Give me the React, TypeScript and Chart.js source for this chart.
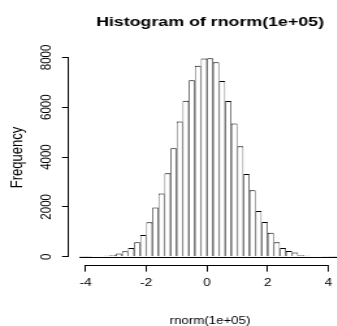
import React, { useEffect, useRef } from "react";
import { Chart, registerables } from "chart.js";

Chart.register(...registerables);

// ---- data ----
const binStart = -4.2;
const binWidth = 0.2;
const counts = [
  1, 3, 8, 20, 38, 70, 125, 220, 350, 580, 875, 1380, 1975, 2535, 3350, 4355,
  5425, 6255, 7085, 7660, 7955, 7960, 7800, 7050, 6245, 5350, 4430, 3320, 2670,
  1835, 1390, 960, 585, 350, 225, 170, 60, 38, 18, 9, 4, 2, 1,
];
const xTickValues = [-4, -2, 0, 2, 4];
const yTickValues = [0, 2000, 4000, 6000, 8000];
const titleText = "Histogram of rnorm(1e+05)";
const xLabel = "rnorm(1e+05)";
const yLabel = "Frequency";

const FONT = '"Liberation Sans", Arial, Helvetica, sans-serif';
const STRETCH = 1.3;
const INNER_W = 270;
const H = 326;

export default function App() {
  const ref = useRef<HTMLCanvasElement | null>(null);

  useEffect(() => {
    const canvas = ref.current;
    if (!canvas) return;
    const lo = binStart;
    const hi = binStart + counts.length * binWidth;
    const xExt = 0.04 * (hi - lo);
    const ymax = Math.max(...counts);
    const yExt = 0.04 * ymax;

    const data = counts.map((c, i) => ({ x: binStart + binWidth * (i + 0.5), y: c }));

    const axisLines = {
      id: "rAxisLines",
      afterDatasetsDraw(chart: any) {
        const { ctx, chartArea, scales } = chart;
        const xs = scales.x;
        const ys = scales.y;
        ctx.save();
        ctx.beginPath();
        ctx.rect(chartArea.left, chartArea.top, chartArea.right - chartArea.left, chartArea.bottom - chartArea.top);
        ctx.clip();
        ctx.strokeStyle = "#000";
        ctx.lineWidth = 1;
        const y0 = Math.round(ys.getPixelForValue(0)) + 0.5;
        ctx.beginPath();
        ctx.moveTo(xs.getPixelForValue(lo), y0);
        ctx.lineTo(xs.getPixelForValue(hi), y0);
        ctx.stroke();
        ctx.restore();
      },
      afterDraw(chart: any) {
        const { ctx, chartArea, scales } = chart;
        const xs = scales.x;
        const ys = scales.y;
        ctx.save();
        ctx.strokeStyle = "#000";
        ctx.lineWidth = 1;
        const xt = xs.ticks;
        const yb = Math.round(chartArea.bottom) + 0.5;
        ctx.beginPath();
        ctx.moveTo(xs.getPixelForValue(xt[0].value), yb);
        ctx.lineTo(xs.getPixelForValue(xt[xt.length - 1].value), yb);
        ctx.stroke();
        const yt = ys.ticks;
        const xl = Math.round(chartArea.left) - 0.5;
        ctx.beginPath();
        ctx.moveTo(xl, ys.getPixelForValue(yt[0].value));
        ctx.lineTo(xl, ys.getPixelForValue(yt[yt.length - 1].value));
        ctx.stroke();
        ctx.restore();
      },
    };

    const chart = new Chart(canvas, {
      type: "bar",
      data: {
        datasets: [
          {
            data: data as any,
            backgroundColor: "#ffffff",
            borderColor: "#000000",
            borderWidth: { left: 0.7, right: 0.7, top: 1, bottom: 0 } as any,
            borderSkipped: false,
            inflateAmount: 0,
            barPercentage: 1,
            categoryPercentage: 1,
            grouped: false,
          } as any,
        ],
      },
      options: {
        responsive: false,
        animation: false,
        devicePixelRatio: 1,
        layout: { padding: 0 },
        font: { family: FONT },
        plugins: {
          legend: { display: false },
          tooltip: { enabled: false },
          title: {
            display: true,
            text: titleText,
            fullSize: false,
            color: "#000",
            font: { family: FONT, size: 13.7, weight: "bold", lineHeight: 1.2 },
            padding: { top: 13.8, bottom: 20.2 },
          },
        },
        scales: {
          x: {
            type: "linear",
            min: lo - xExt,
            max: hi + xExt,
            bounds: "data",
            offset: false,
            afterBuildTicks: (s: any) => {
              s.ticks = xTickValues.map((v) => ({ value: v }));
            },
            afterFit: (s: any) => {
              s.height = H - (256.7 + yExt * 0.02492);
            },
            ticks: {
              autoSkip: false,
              maxRotation: 0,
              minRotation: 0,
              color: "#000",
              padding: 5.2,
              callback: (v: any) => String(v),
              font: { family: FONT, size: 10.5, lineHeight: 1.2 },
            },
            grid: {
              offset: false,
              drawOnChartArea: false,
              drawTicks: true,
              tickLength: 7,
              color: "#000",
              lineWidth: 1,
            },
            border: { display: false },
            title: {
              display: true,
              text: xLabel,
              color: "#000",
              font: { family: FONT, size: 10.2, lineHeight: 1.2 },
              padding: { top: 0, bottom: -1 },
            },
          } as any,
          y: {
            type: "linear",
            min: -yExt,
            max: ymax + yExt,
            bounds: "data",
            afterBuildTicks: (s: any) => {
              s.ticks = yTickValues.map((v) => ({ value: v }));
            },
            afterFit: (s: any) => {
              s.width = 53.1;
            },
            ticks: {
              autoSkip: false,
              minRotation: 90,
              maxRotation: 90,
              crossAlign: "center",
              color: "#000",
              padding: -1.3,
              callback: (v: any) => String(v),
              font: { family: FONT, size: 11.5, lineHeight: 1.2 },
            },
            grid: {
              drawOnChartArea: false,
              drawTicks: true,
              tickLength: 5.4,
              color: "#000",
              lineWidth: 1,
            },
            border: { display: false },
            title: {
              display: true,
              text: yLabel,
              color: "#000",
              font: { family: FONT, size: 13, lineHeight: 1.2 },
              padding: { top: 6, bottom: 0 },
            },
          } as any,
        },
      },
      plugins: [axisLines],
    });

    return () => chart.destroy();
  }, []);

  return (
    <div
      style={{
        position: "absolute",
        left: 0,
        top: 0,
        width: 337,
        height: H,
        overflow: "hidden",
        background: "#fff",
      }}
    >
      <canvas
        ref={ref}
        width={INNER_W}
        height={H}
        style={{ display: "block", width: `${INNER_W * STRETCH}px`, height: `${H}px` }}
      />
    </div>
  );
}
